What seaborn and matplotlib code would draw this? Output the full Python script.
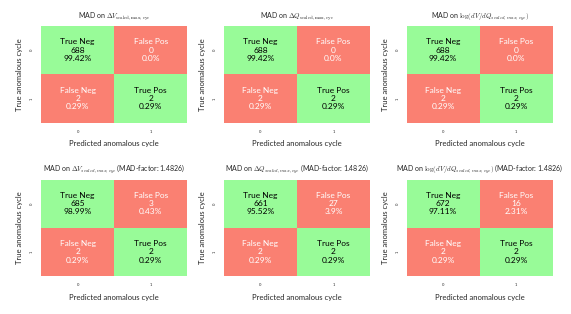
import numpy as np
import matplotlib
matplotlib.use("Agg")
import matplotlib.pyplot as plt
import seaborn as sns
from matplotlib.colors import ListedColormap

titles = [
    r"MAD on $\Delta V_{\mathrm{scaled,max,cyc}}$",
    r"MAD on $\Delta Q_{\mathrm{scaled,max,cyc}}$",
    r"MAD on $\log(dV/dQ_{scaled,max,cyc})$",
    r"MAD on $\Delta V_{scaled,max,cyc}$ (MAD-factor: 1.4826)",
    r"MAD on $\Delta Q_{scaled,max,cyc}$ (MAD-factor: 1.4826)",
    r"MAD on $\log(dV/dQ_{scaled,max,cyc})$ (MAD-factor: 1.4826)",
]

# confusion matrices: [[TN, FP], [FN, TP]]
true_neg = [688, 688, 688, 685, 661, 672]
false_pos = [0, 0, 0, 3, 27, 16]
false_neg = [2, 2, 2, 2, 2, 2]
true_pos = [2, 2, 2, 2, 2, 2]

group_names = ["True Neg", "False Pos", "False Neg", "True Pos"]
tick_labels = ["0", "1"]

sns.set_theme(style="white")
plt.rcParams["font.family"] = ["Lato", "DejaVu Sans"]
plt.rcParams["mathtext.fontset"] = "cm"

fig, axes = plt.subplots(2, 3, figsize=(5.71, 3.14), dpi=100)
plt.subplots_adjust(left=0.072, right=0.968, top=0.917, bottom=0.121,
                    wspace=0.25, hspace=0.59)

cmap = ListedColormap(["salmon", "palegreen"])
correct = np.array([[1, 0], [0, 1]])

for i, ax in enumerate(axes.flat):
    cm = np.array([[true_neg[i], false_pos[i]], [false_neg[i], true_pos[i]]])
    total = cm.sum()
    counts = cm.flatten()
    labels = [f"{n}\n{c}\n{round(c / total * 100, 2)}%"
              for n, c in zip(group_names, counts)]
    labels = np.array(labels).reshape(2, 2)
    sns.heatmap(correct, annot=labels, fmt="", cmap=cmap, cbar=False,
                vmin=0, vmax=1, ax=ax, annot_kws={"fontsize": 6},
                xticklabels=tick_labels, yticklabels=tick_labels)
    for t in ax.texts:
        r, c = [int(v) for v in np.floor(t.get_position())][::-1]
        t.set_color("black" if correct[r, c] else "white")
    ax.set_title(titles[i], fontsize=5, pad=6)
    ax.set_xlabel("Predicted anomalous cycle", fontsize=5.5, labelpad=5)
    ax.set_ylabel("True anomalous cycle", fontsize=5.5, labelpad=5)
    ax.tick_params(axis="both", labelsize=3, length=0, pad=5)
    plt.setp(ax.get_yticklabels(), rotation=90, va="center")

plt.savefig("out.png", dpi=100)
